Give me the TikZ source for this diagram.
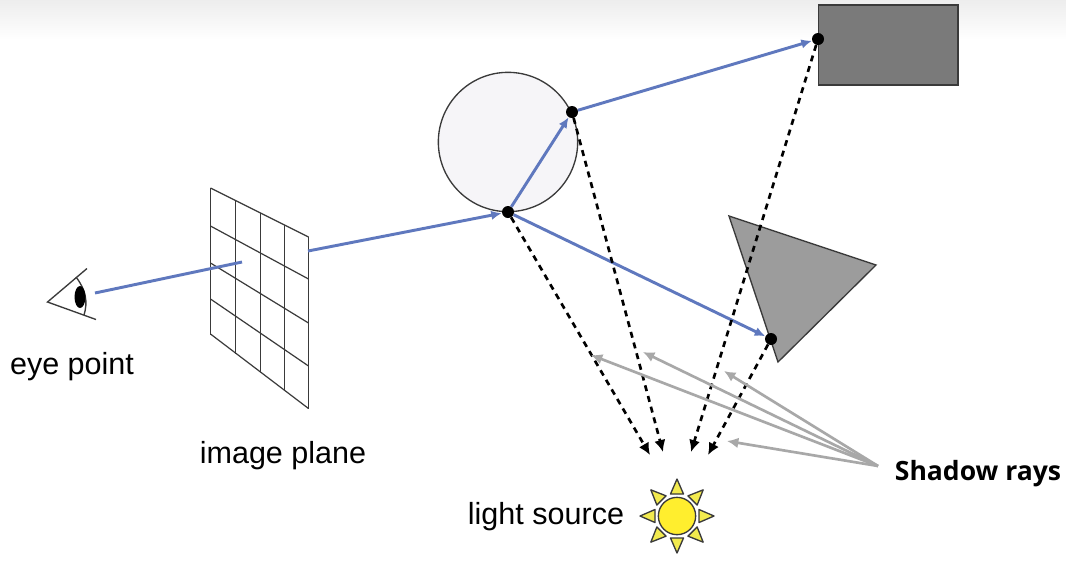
\documentclass[tikz,border=0pt]{standalone}
\usepackage{fontspec}
\setmainfont{Liberation Sans}
\newfontfamily\boldlabel{Open Sans}
\usetikzlibrary{arrows.meta}
\definecolor{rayblue}{HTML}{5F78BE}
\definecolor{rectgray}{HTML}{7A7A7A}
\definecolor{trigray}{HTML}{9C9C9C}
\definecolor{spheregray}{HTML}{F6F5F8}
\definecolor{shadowgray}{HTML}{A8A8A8}
\definecolor{linegray}{HTML}{3A3A3A}
\definecolor{sunyellow}{HTML}{FFEE2E}
\definecolor{rayyellow}{HTML}{F2EA4E}
\tikzset{
  blueray/.style={draw=rayblue,line width=2.2pt,-{Latex[length=8pt,width=7pt]}},
  bluefree/.style={draw=rayblue,line width=2.2pt},
  dashray/.style={draw=black,line width=2pt,dash pattern=on 4.5pt off 3.8pt,-{Latex[length=9pt,width=8.5pt]}},
  grayray/.style={draw=shadowgray,line width=2pt,-{Latex[length=8.5pt,width=8pt]}},
  hit/.style={circle,fill=black,inner sep=0pt,minimum size=9pt},
  gridline/.style={draw=linegray,line width=0.9pt},
  shapeline/.style={draw=linegray,line width=1pt},
  lab/.style={font=\fontsize{22.9}{27}\selectfont,text=black,inner sep=0pt},
  sunray/.style={draw=linegray,fill=rayyellow,line width=1pt,line join=round},
}
\begin{document}
\begin{tikzpicture}[x=0.75pt,y=-0.75pt]
\useasboundingbox (0,0) rectangle (1066,562);
\fill[white] (0,0) rectangle (1066,562);
\shade[top color=black!7,bottom color=white] (0,0) rectangle (1066,40);

% shapes
\path[shapeline,fill=rectgray] (818.5,5) rectangle (958,85);
\path[shapeline,fill=trigray] (729,216) -- (876,265) -- (778,362) -- cycle;
\node[circle,shapeline,fill=spheregray,minimum size=104.5pt,inner sep=0pt] (sphere) at (508,142) {};

% image plane
\foreach \t/\b/\x in {188/335/210.5, 200.3/353.5/235.4, 212.5/372/260.3, 224.8/390.5/284.4, 237/409/308.5}
  \draw[gridline] (\x,\t) -- (\x,\b);
\foreach \l/\r in {188/237, 226/279, 263/323, 299/366, 334/408.5}
  \draw[gridline] (210.5,\l) -- (308.5,\r);

% eye
\draw[line width=1pt,draw=linegray,line join=miter] (87,268.5) -- (47.5,302) -- (96,319.5);
\draw[line width=1pt,draw=linegray] (76,277) .. controls (86,290) and (88,302) .. (84,315);
\fill[black] (80,297) ellipse [x radius=5.5,y radius=11];

% anchors
\node[hit] (p1) at (508,212) {};
\node[hit] (p2) at (572,112) {};
\node[hit] (p3) at (818,39) {};
\node[hit] (p4) at (771,339) {};
\coordinate (eye) at (95,293);
\coordinate (planein) at (242,262);
\coordinate (planeout) at (308,251);

% primary rays
\draw[bluefree] (eye) -- (planein);
\draw[blueray] (planeout) -- (p1);
\draw[blueray] (p1) -- (p2);
\draw[blueray] (p2) -- (p3);
\draw[blueray] (p1) -- (p4);

% light rays
\coordinate (l1) at (650,455);
\coordinate (l2) at (663,452);
\coordinate (l3) at (691,452);
\coordinate (l4) at (708,455);
\draw[dashray] (p1) -- (l1);
\draw[dashray] (p2) -- (l2);
\draw[dashray] (p3) -- (l3);
\draw[dashray] (p4) -- (l4);

% labels
\node[lab,anchor=base] (eyelabel) at (72,374) {eye point};
\node[lab,anchor=base] (planelabel) at (283,463) {image plane};
\node[lab,anchor=base] (lightlabel) at (546,524.5) {light source};
\node[font=\boldlabel\bfseries\fontsize{19.9}{24}\selectfont,inner sep=0pt,anchor=base] (shadowlabel) at (978,480) {Shadow rays};

% shadow ray pointers
\coordinate (sfrom) at (878,466);
\coordinate (s1) at (591,355);
\coordinate (s2) at (643,352);
\coordinate (s3) at (724,371);
\coordinate (s4) at (727,441);
\draw[grayray] (sfrom) -- (s1);
\draw[grayray] (sfrom) -- (s2);
\draw[grayray] (sfrom) -- (s3);
\draw[grayray] (sfrom) -- (s4);

% sun
\foreach \a in {0,45,...,315}
  \path[sunray,rotate around={\a:(677,516)}] (699,509.5) -- (714,516) -- (699,522.5) -- cycle;
\node[circle,draw=linegray,line width=1pt,fill=sunyellow,minimum size=28pt,inner sep=0pt] (sun) at (677,516) {};
\end{tikzpicture}
\end{document}
